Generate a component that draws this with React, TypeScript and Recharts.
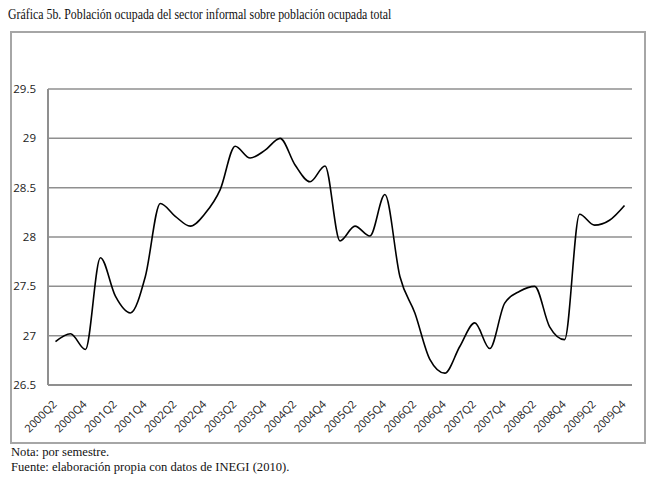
import React from "react";
import { CartesianGrid, Line, LineChart, XAxis, YAxis } from "recharts";

const quarters = [
  "2000Q2", "2000Q3", "2000Q4",
  "2001Q1", "2001Q2", "2001Q3", "2001Q4",
  "2002Q1", "2002Q2", "2002Q3", "2002Q4",
  "2003Q1", "2003Q2", "2003Q3", "2003Q4",
  "2004Q1", "2004Q2", "2004Q3", "2004Q4",
  "2005Q1", "2005Q2", "2005Q3", "2005Q4",
  "2006Q1", "2006Q2", "2006Q3", "2006Q4",
  "2007Q1", "2007Q2", "2007Q3", "2007Q4",
  "2008Q1", "2008Q2", "2008Q3", "2008Q4",
  "2009Q1", "2009Q2", "2009Q3", "2009Q4"
];

const informal = [
  26.94, 27.02, 26.86, 27.79, 27.4, 27.23, 27.6, 28.34, 28.21, 28.11,
  28.24, 28.48, 28.92, 28.8, 28.88, 29.0, 28.73, 28.56, 28.72, 27.96,
  28.11, 28.01, 28.43, 27.6, 27.23, 26.76, 26.62, 26.89, 27.13, 26.87,
  27.33, 27.45, 27.5, 27.09, 26.96, 28.23, 28.12, 28.17, 28.32
];

const yTicks = [26.5, 27, 27.5, 28, 28.5, 29, 29.5];

const data = quarters.map((q, i) => ({ q, v: informal[i] }));

const PLOT_BOTTOM = 385;
const SANS = "'Open Sans', 'DejaVu Sans', sans-serif";
const SERIF = "'Liberation Serif', 'Times New Roman', serif";

function XTick(props: any) {
  const { x, payload } = props;
  return (
    <g transform={`translate(${x + 2},${PLOT_BOTTOM + 20})`}>
      <text textAnchor="end" transform="rotate(-45)" fontSize={11} fill="#222" fontFamily={SANS}>
        {payload.value}
      </text>
    </g>
  );
}

function YTick(props: any) {
  const { y, payload } = props;
  return (
    <text x={36} y={y} dy={4} textAnchor="end" fontSize={11.5} fill="#222" fontFamily={SANS}>
      {payload.value}
    </text>
  );
}

export default function App() {
  return (
    <div style={{ position: "absolute", left: 0, top: 0, width: 651, height: 483, background: "#fff" }}>
      <div
        style={{
          position: "absolute",
          left: 8,
          top: 6,
          fontFamily: SERIF,
          fontSize: 15,
          color: "#111",
          whiteSpace: "nowrap",
          transform: "scaleX(0.79)",
          transformOrigin: "left top"
        }}
      >
        Gráfica 5b. Población ocupada del sector informal sobre población ocupada total
      </div>
      <div
        style={{
          position: "absolute",
          left: 10,
          top: 31,
          width: 632,
          height: 409,
          border: "2px solid #a6a6a6"
        }}
      />
      <div style={{ position: "absolute", left: 0, top: 0 }}>
        <LineChart width={651} height={483} data={data} margin={{ top: 89, right: 19, bottom: 38, left: 8 }}>
          <CartesianGrid vertical={false} stroke="#8f8f8f" strokeWidth={1.5} />
          <XAxis
            dataKey="q"
            interval={1}
            height={60}
            padding={{ left: 7.5, right: 7.5 }}
            axisLine={{ stroke: "#8f8f8f", strokeWidth: 2 }}
            tickLine={false}
            tick={<XTick />}
          />
          <YAxis
            width={40}
            domain={[26.5, 29.5]}
            ticks={yTicks}
            interval={0}
            axisLine={{ stroke: "#8f8f8f", strokeWidth: 2 }}
            tickLine={false}
            tick={<YTick />}
          />
          <Line
            type="monotone"
            dataKey="v"
            stroke="#000"
            strokeWidth={1.6}
            dot={false}
            isAnimationActive={false}
          />
        </LineChart>
      </div>
      <div style={{ position: "absolute", left: 11, top: 445, fontFamily: SERIF, fontSize: 12.6, lineHeight: "15px", color: "#111" }}>
        <div>Nota: por semestre.</div>
        <div>Fuente: elaboración propia con datos de INEGI (2010).</div>
      </div>
    </div>
  );
}
